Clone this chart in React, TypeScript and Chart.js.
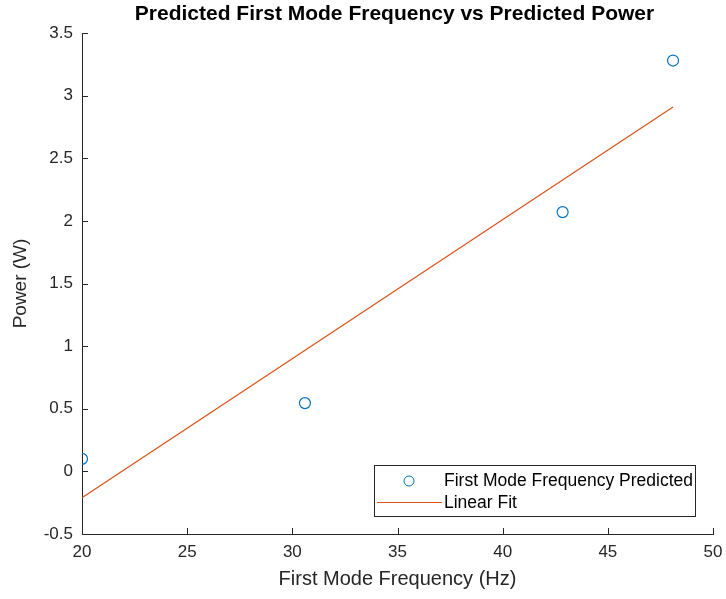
import React, { useEffect, useRef } from "react";
import { Chart, registerables } from "chart.js";

Chart.register(...registerables);

const pointFreq = [20.0, 30.6, 42.85, 48.1];
const pointPower = [0.1, 0.545, 2.07, 3.28];
const fitFreq = [20.0, 48.1];
const fitPower = [-0.21, 2.91];
const xTicks = [20, 25, 30, 35, 40, 45, 50];
const yTicks = [-0.5, 0, 0.5, 1, 1.5, 2, 2.5, 3, 3.5];

const TITLE = "Predicted First Mode Frequency vs Predicted Power";
const X_TITLE = "First Mode Frequency (Hz)";
const Y_TITLE = "Power (W)";
const LEGEND_LABELS = ["First Mode Frequency Predicted", "Linear Fit"];

const BLUE = "#0072BD";
const ORANGE = "#D95319";
const AXIS = "#262626";
const FONT = "'Liberation Sans', Arial, Helvetica, sans-serif";

const matlabPlugin = {
  id: "matlabStyle",
  afterDraw(chart: any) {
    const { ctx, chartArea, scales } = chart;
    const xs = scales.x;
    const ys = scales.y;
    ctx.save();
    // inward ticks
    ctx.strokeStyle = AXIS;
    ctx.lineWidth = 1;
    ctx.beginPath();
    for (const v of xTicks) {
      const px = Math.round(xs.getPixelForValue(v)) + 0.5;
      ctx.moveTo(px, chartArea.bottom);
      ctx.lineTo(px, chartArea.bottom - 6);
    }
    for (const v of yTicks) {
      const py = Math.round(ys.getPixelForValue(v)) + 0.5;
      ctx.moveTo(chartArea.left, py);
      ctx.lineTo(chartArea.left + 6, py);
    }
    ctx.stroke();

    // title
    ctx.fillStyle = "#000";
    ctx.font = `bold 21px ${FONT}`;
    ctx.textAlign = "center";
    ctx.textBaseline = "middle";
    ctx.fillText(TITLE, (chartArea.left + chartArea.right) / 2 - 3, 14);

    // legend
    const lx = 374.5, ly = 465.5, lw = 321, lh = 51;
    ctx.fillStyle = "#fff";
    ctx.fillRect(lx, ly, lw, lh);
    ctx.strokeStyle = AXIS;
    ctx.lineWidth = 1;
    ctx.strokeRect(lx, ly, lw, lh);
    // marker
    ctx.strokeStyle = BLUE;
    ctx.beginPath();
    ctx.arc(409, 481, 5, 0, Math.PI * 2);
    ctx.stroke();
    // line
    ctx.strokeStyle = ORANGE;
    ctx.lineWidth = 1.2;
    ctx.beginPath();
    ctx.moveTo(377, 502.5);
    ctx.lineTo(442, 502.5);
    ctx.stroke();
    ctx.fillStyle = "#000";
    ctx.font = `17.5px ${FONT}`;
    ctx.textAlign = "left";
    ctx.fillText(LEGEND_LABELS[0], 444, 481);
    ctx.fillText(LEGEND_LABELS[1], 444, 503);
    ctx.restore();
  },
};

export default function App() {
  const ref = useRef<HTMLCanvasElement | null>(null);
  useEffect(() => {
    document.body.style.margin = "0";
    const canvas = ref.current!;
    const chart = new Chart(canvas, {
      type: "scatter",
      data: {
        datasets: [
          {
            label: LEGEND_LABELS[0],
            data: pointFreq.map((x, i) => ({ x, y: pointPower[i] })),
            showLine: false,
            pointStyle: "circle",
            pointRadius: 5.5,
            pointBorderWidth: 1.2,
            borderColor: BLUE,
            backgroundColor: "rgba(0,0,0,0)",
            pointBackgroundColor: "rgba(0,0,0,0)",
            order: 1,
          },
          {
            label: LEGEND_LABELS[1],
            data: fitFreq.map((x, i) => ({ x, y: fitPower[i] })),
            showLine: true,
            pointRadius: 0,
            borderColor: ORANGE,
            borderWidth: 1.2,
            backgroundColor: ORANGE,
            order: 2,
          },
        ],
      },
      options: {
        responsive: false,
        animation: false,
        devicePixelRatio: 1,
        layout: { padding: { top: 33, right: 13, left: 0, bottom: 0 } },
        plugins: {
          legend: { display: false },
          title: { display: false },
          tooltip: { enabled: false },
        },
        scales: {
          x: {
            type: "linear",
            min: 20,
            max: 50,
            afterBuildTicks: (s: any) => {
              s.ticks = xTicks.map((v) => ({ value: v }));
            },
            afterFit: (s: any) => {
              s.height = 65;
              s.paddingLeft = 0;
              s.paddingRight = 0;
            },
            ticks: {
              color: AXIS,
              font: { family: FONT, size: 17 },
              padding: 8,
              maxRotation: 0,
              callback: (v: any) => String(v),
            },
            grid: { display: false, drawTicks: false },
            border: { display: true, color: AXIS, width: 1 },
            title: {
              display: true,
              text: X_TITLE,
              color: AXIS,
              font: { family: FONT, size: 20 },
              padding: { top: 4, bottom: 8 },
            },
          },
          y: {
            type: "linear",
            min: -0.5,
            max: 3.5,
            afterBuildTicks: (s: any) => {
              s.ticks = yTicks.map((v) => ({ value: v }));
            },
            afterFit: (s: any) => {
              s.width = 82;
              s.paddingTop = 0;
              s.paddingBottom = 0;
            },
            ticks: {
              color: AXIS,
              font: { family: FONT, size: 17 },
              padding: 9,
              callback: (v: any) => String(Math.round(v * 10) / 10),
            },
            grid: { display: false, drawTicks: false },
            border: { display: true, color: AXIS, width: 1 },
            title: {
              display: true,
              text: Y_TITLE,
              color: AXIS,
              font: { family: FONT, size: 19 },
              padding: { top: 9, bottom: 4 },
            },
          },
        },
      },
      plugins: [matlabPlugin],
    } as any);
    return () => chart.destroy();
  }, []);
  return (
    <div style={{ position: "absolute", left: 0, top: 0, width: 726, height: 599, background: "#fff" }}>
      <canvas ref={ref} width={726} height={599} style={{ display: "block" }} />
    </div>
  );
}
